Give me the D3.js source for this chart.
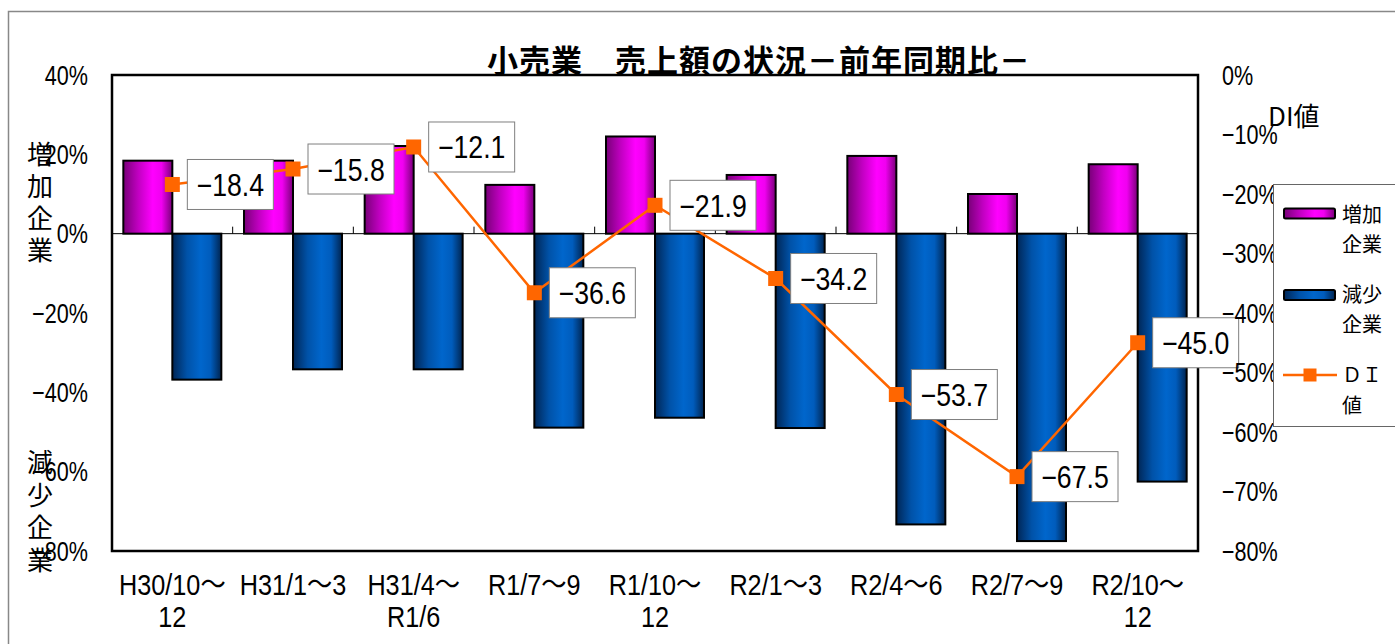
<!DOCTYPE html>
<html><head><meta charset="utf-8">
<script src="https://cdn.jsdelivr.net/npm/d3@7"></script>
<style>
html,body{margin:0;padding:0;background:#fff;}
svg{display:block;}
</style>
</head><body>
<script>
const categories = ["H30/10～12","H31/1～3","H31/4～R1/6","R1/7～9","R1/10～12","R2/1～3","R2/4～6","R2/7～9","R2/10～12"];
const increase = [18.4, 18.4, 22.1, 12.3, 24.5, 14.8, 19.6, 10.0, 17.5];
const decrease = [36.8, 34.2, 34.2, 48.9, 46.4, 49.0, 73.3, 77.5, 62.5];
const diValues = [-18.4, -15.8, -12.1, -36.6, -21.9, -34.2, -53.7, -67.5, -45.0];
const leftTicks = [40, 20, 0, -20, -40, -60, -80];
const rightTicks = [0, -10, -20, -30, -40, -50, -60, -70, -80];
const titleText = "小売業　売上額の状況－前年同期比－";

const W = 1395, H = 644;
const px0 = 112, px1 = 1198, py0 = 75, py1 = 551;
const JP = "'Noto Sans CJK JP', sans-serif";
const NUM = "'Liberation Sans', 'Noto Sans CJK JP', sans-serif";

const svg = d3.select("body").append("svg").attr("width", W).attr("height", H);
const defs = svg.append("defs");
function grad(id, stops) {
  const g = defs.append("linearGradient").attr("id", id).attr("x1", 0).attr("x2", 1).attr("y1", 0).attr("y2", 0);
  stops.forEach(s => g.append("stop").attr("offset", s[0]).attr("stop-color", s[1]));
}
grad("gPink", [["0%", "#780078"], ["30%", "#c000c0"], ["60%", "#ff00ff"], ["78%", "#f000f0"], ["100%", "#780078"]]);
grad("gBlue", [["0%", "#002656"], ["30%", "#0052a8"], ["58%", "#0066cc"], ["78%", "#005cbc"], ["100%", "#002450"]]);

const x = d3.scaleBand().domain(categories).range([px0, px1]).paddingInner(0).paddingOuter(0);
const yL = d3.scaleLinear().domain([-80, 40]).range([py1, py0]);
const yR = d3.scaleLinear().domain([-80, 0]).range([py1, py0]);
const bw = 49;
const cx = c => x(c) + x.bandwidth() / 2;

function ntext(g, xx, yy, str, size, sx, anchor) {
  return g.append("text").attr("transform", `translate(${xx},${yy}) scale(${sx},1)`)
    .attr("font-family", NUM).attr("font-size", size).attr("text-anchor", anchor || "start")
    .attr("fill", "#000").text(str);
}

// outer frame
svg.append("rect").attr("x", 8.5).attr("y", 11.5).attr("width", W).attr("height", H).attr("fill", "#fff").attr("stroke", "#888").attr("stroke-width", 1.5);

// plot background
svg.append("rect").attr("x", px0).attr("y", py0).attr("width", px1 - px0).attr("height", py1 - py0).attr("fill", "#fff");

// zero line
svg.append("line").attr("x1", px0).attr("x2", px1).attr("y1", yL(0)).attr("y2", yL(0)).attr("stroke", "#000").attr("stroke-width", 1);
categories.forEach((c, i) => {
  if (i === 0) return;
  svg.append("line").attr("x1", x(c)).attr("x2", x(c)).attr("y1", yL(0)).attr("y2", yL(0) - 7).attr("stroke", "#000").attr("stroke-width", 1);
});

// bars
svg.selectAll("rect.inc").data(categories).enter().append("rect").attr("class", "inc")
  .attr("x", c => cx(c) - bw).attr("width", bw)
  .attr("y", (c, i) => yL(increase[i])).attr("height", (c, i) => yL(0) - yL(increase[i]))
  .attr("fill", "url(#gPink)").attr("stroke", "#000").attr("stroke-width", 2);
svg.selectAll("rect.dec").data(categories).enter().append("rect").attr("class", "dec")
  .attr("x", c => cx(c)).attr("width", bw)
  .attr("y", yL(0)).attr("height", (c, i) => yL(-decrease[i]) - yL(0))
  .attr("fill", "url(#gBlue)").attr("stroke", "#000").attr("stroke-width", 2);

// plot border
svg.append("rect").attr("x", px0).attr("y", py0).attr("width", px1 - px0).attr("height", py1 - py0)
  .attr("fill", "none").attr("stroke", "#000").attr("stroke-width", 2.5);

// DI line
const line = d3.line().x((d, i) => cx(categories[i])).y(d => yR(d));
svg.append("path").datum(diValues).attr("d", line).attr("fill", "none").attr("stroke", "#ff6600").attr("stroke-width", 2.5);
svg.selectAll("rect.mk").data(diValues).enter().append("rect").attr("class", "mk")
  .attr("x", (d, i) => cx(categories[i]) - 7.5).attr("y", d => yR(d) - 7.5)
  .attr("width", 15).attr("height", 15).attr("fill", "#ff6600");

// data labels
diValues.forEach((d, i) => {
  const mx = cx(categories[i]), my = yR(d);
  const g = svg.append("g");
  g.append("rect").attr("x", mx + 15).attr("y", my - 25).attr("width", 86).attr("height", 50)
    .attr("fill", "#fff").attr("stroke", "#7f7f7f").attr("stroke-width", 1);
  ntext(g, mx + 15 + 43, my + 11.5, (d < 0 ? "−" : "") + Math.abs(d).toFixed(1), 31, 0.86, "middle");
});

// left ticks
leftTicks.forEach(t => {
  ntext(svg, 88, yL(t) + 9.5, (t < 0 ? "−" : "") + Math.abs(t) + "%", 27, 0.8, "end");
});
// right ticks
rightTicks.forEach(t => {
  ntext(svg, 1222, yR(t) + 9.5, (t < 0 ? "−" : "") + Math.abs(t) + "%", 27, 0.8, "start");
});

// x labels
categories.forEach(c => {
  let lines = [c];
  const k = c.indexOf("～");
  if (c.length >= 8) lines = [c.slice(0, k + 1), c.slice(k + 1)];
  lines.forEach((l, j) => {
    ntext(svg, cx(c), 595 + j * 32, l, 29, 0.87, "middle");
  });
});

// vertical axis titles
["増", "加", "企", "業"].forEach((ch, i) => {
  svg.append("text").attr("x", 40).attr("y", 154 + i * 32 + 10).attr("text-anchor", "middle")
    .attr("font-family", JP).attr("font-size", 26).text(ch);
});
["減", "少", "企", "業"].forEach((ch, i) => {
  svg.append("text").attr("x", 40).attr("y", 462 + i * 32.5 + 10).attr("text-anchor", "middle")
    .attr("font-family", JP).attr("font-size", 26).text(ch);
});

// right axis title
svg.append("text").attr("x", 1268).attr("y", 126).attr("font-family", JP).attr("font-size", 26).text("DI値");

// title
svg.append("text").attr("x", 759).attr("y", 72).attr("text-anchor", "middle")
  .attr("font-family", JP).attr("font-size", 31).attr("font-weight", "bold").attr("letter-spacing", 1).text(titleText);

// legend
const lg = svg.append("g");
lg.append("rect").attr("x", 1273.5).attr("y", 184.5).attr("width", 140).attr("height", 242)
  .attr("fill", "#fff").attr("stroke", "#666").attr("stroke-width", 1);
lg.append("rect").attr("x", 1284).attr("y", 208.5).attr("width", 51).attr("height", 10).attr("rx", 1.5)
  .attr("fill", "url(#gPink)").attr("stroke", "#000").attr("stroke-width", 2);
lg.append("rect").attr("x", 1284).attr("y", 290).attr("width", 51).attr("height", 10).attr("rx", 1.5)
  .attr("fill", "url(#gBlue)").attr("stroke", "#000").attr("stroke-width", 2);
lg.append("line").attr("x1", 1283).attr("x2", 1337).attr("y1", 375).attr("y2", 375).attr("stroke", "#ff6600").attr("stroke-width", 2.5);
lg.append("rect").attr("x", 1303.5).attr("y", 368.5).attr("width", 13).attr("height", 13).attr("fill", "#ff6600");
const legTxt = [["増加", 215], ["企業", 245], ["減少", 295], ["企業", 325], ["ＤＩ", 375], ["値", 406]];
legTxt.forEach(([s, yy]) => {
  lg.append("text").attr("x", 1342).attr("y", yy + 7).attr("font-family", JP).attr("font-size", 20).text(s);
});
</script>
</body></html>
